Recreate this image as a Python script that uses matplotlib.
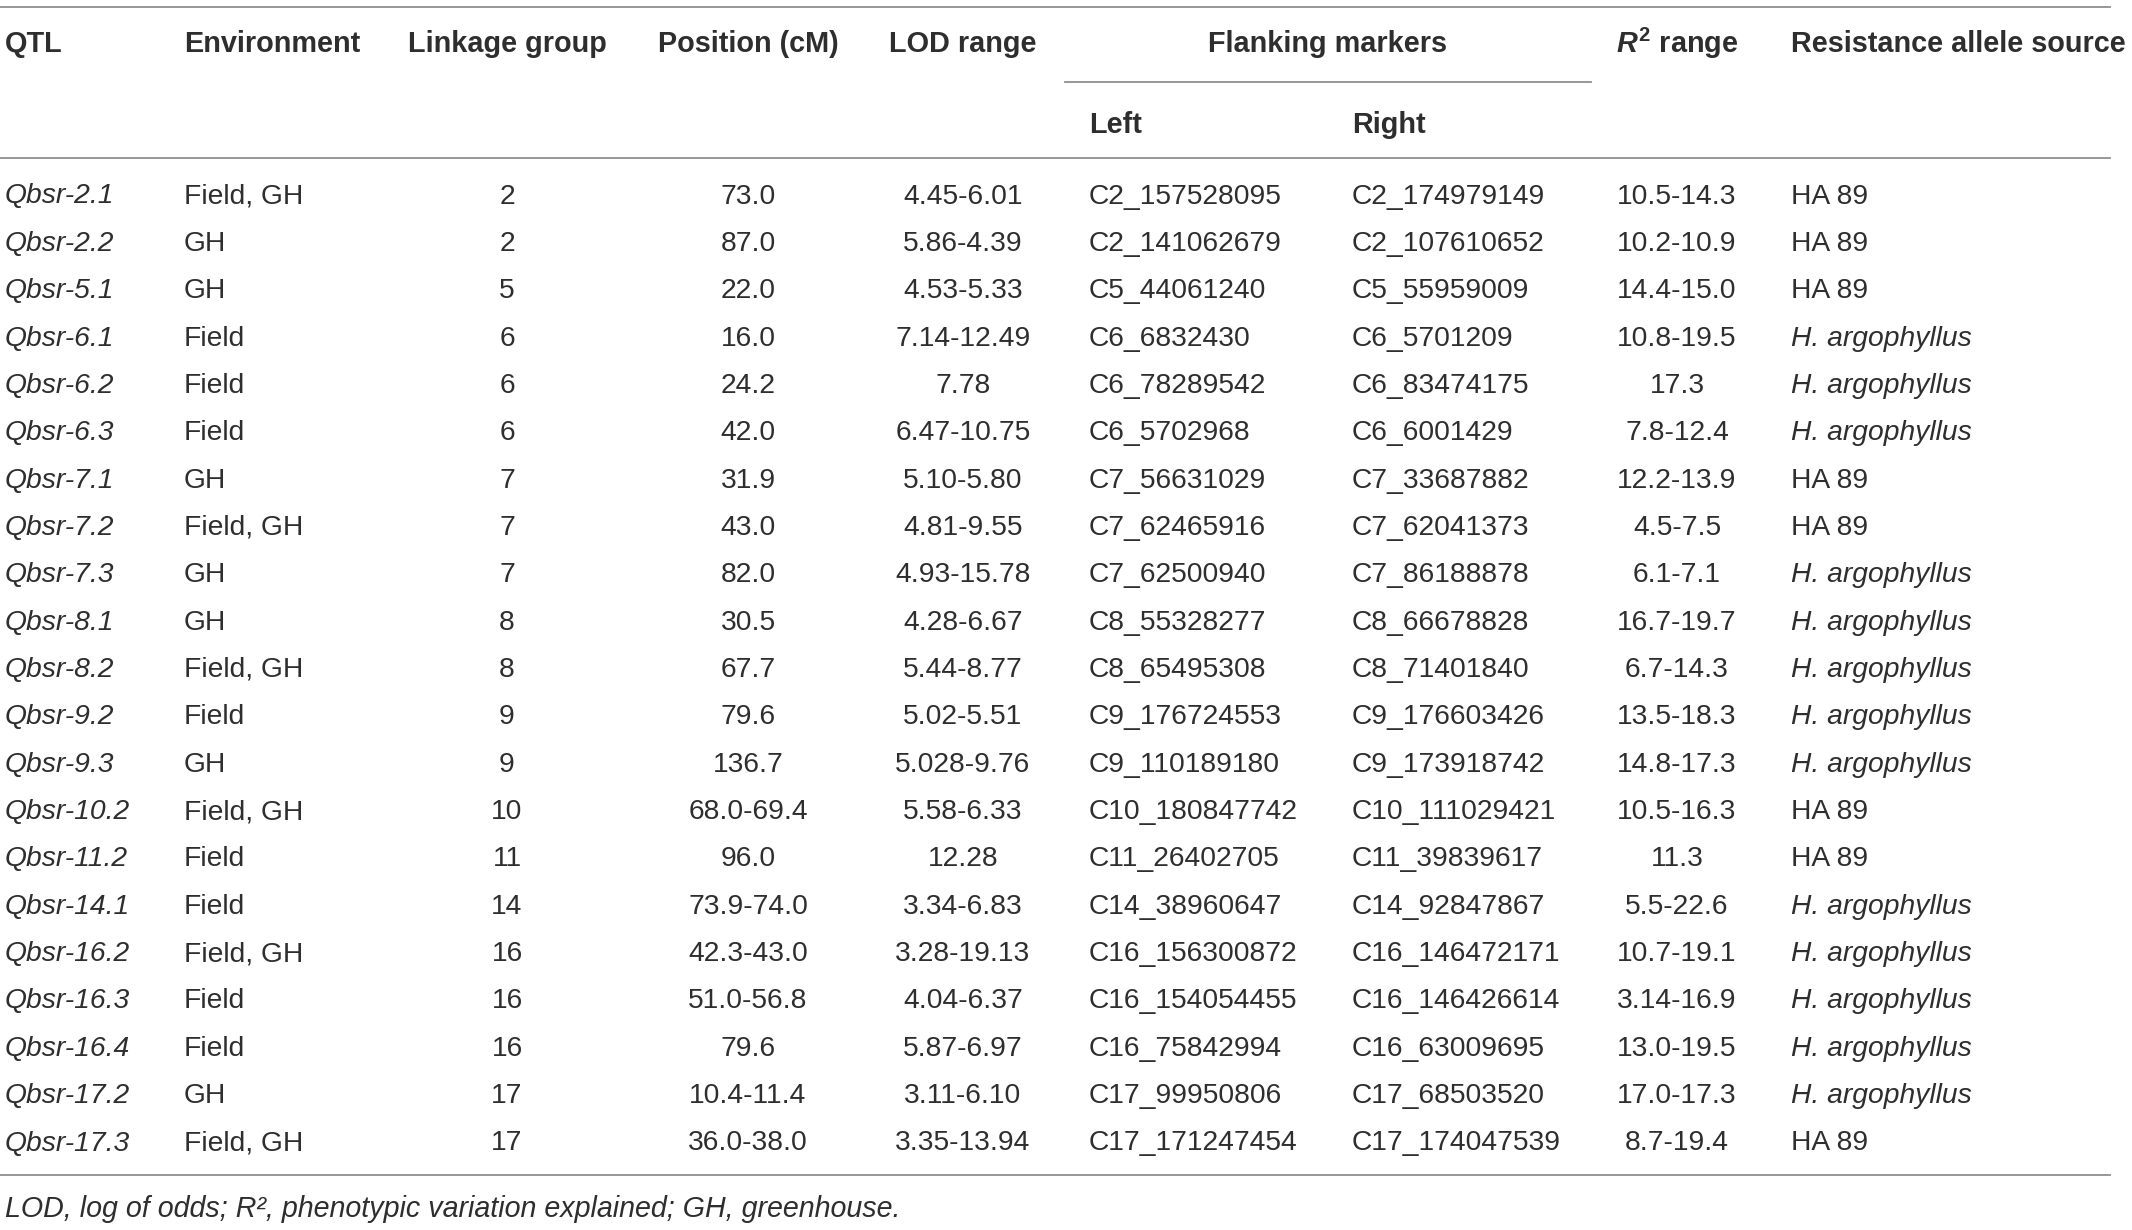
import matplotlib.pyplot as plt

# dados da tabela
qtl = ['Qbsr-2.1', 'Qbsr-2.2', 'Qbsr-5.1', 'Qbsr-6.1', 'Qbsr-6.2', 'Qbsr-6.3',
       'Qbsr-7.1', 'Qbsr-7.2', 'Qbsr-7.3', 'Qbsr-8.1', 'Qbsr-8.2', 'Qbsr-9.2',
       'Qbsr-9.3', 'Qbsr-10.2', 'Qbsr-11.2', 'Qbsr-14.1', 'Qbsr-16.2',
       'Qbsr-16.3', 'Qbsr-16.4', 'Qbsr-17.2', 'Qbsr-17.3']
environment = ['Field, GH', 'GH', 'GH', 'Field', 'Field', 'Field', 'GH',
               'Field, GH', 'GH', 'GH', 'Field, GH', 'Field', 'GH', 'Field, GH',
               'Field', 'Field', 'Field, GH', 'Field', 'Field', 'GH', 'Field, GH']
linkage = ['2', '2', '5', '6', '6', '6', '7', '7', '7', '8', '8', '9', '9',
           '10', '11', '14', '16', '16', '16', '17', '17']
position = ['73.0', '87.0', '22.0', '16.0', '24.2', '42.0', '31.9', '43.0',
            '82.0', '30.5', '67.7', '79.6', '136.7', '68.0-69.4', '96.0',
            '73.9-74.0', '42.3-43.0', '51.0-56.8', '79.6', '10.4-11.4',
            '36.0-38.0']
lod = ['4.45-6.01', '5.86-4.39', '4.53-5.33', '7.14-12.49', '7.78',
       '6.47-10.75', '5.10-5.80', '4.81-9.55', '4.93-15.78', '4.28-6.67',
       '5.44-8.77', '5.02-5.51', '5.028-9.76', '5.58-6.33', '12.28',
       '3.34-6.83', '3.28-19.13', '4.04-6.37', '5.87-6.97', '3.11-6.10',
       '3.35-13.94']
left_marker = ['C2_157528095', 'C2_141062679', 'C5_44061240', 'C6_6832430',
               'C6_78289542', 'C6_5702968', 'C7_56631029', 'C7_62465916',
               'C7_62500940', 'C8_55328277', 'C8_65495308', 'C9_176724553',
               'C9_110189180', 'C10_180847742', 'C11_26402705', 'C14_38960647',
               'C16_156300872', 'C16_154054455', 'C16_75842994',
               'C17_99950806', 'C17_171247454']
right_marker = ['C2_174979149', 'C2_107610652', 'C5_55959009', 'C6_5701209',
                'C6_83474175', 'C6_6001429', 'C7_33687882', 'C7_62041373',
                'C7_86188878', 'C8_66678828', 'C8_71401840', 'C9_176603426',
                'C9_173918742', 'C10_111029421', 'C11_39839617',
                'C14_92847867', 'C16_146472171', 'C16_146426614',
                'C16_63009695', 'C17_68503520', 'C17_174047539']
r2 = ['10.5-14.3', '10.2-10.9', '14.4-15.0', '10.8-19.5', '17.3', '7.8-12.4',
      '12.2-13.9', '4.5-7.5', '6.1-7.1', '16.7-19.7', '6.7-14.3', '13.5-18.3',
      '14.8-17.3', '10.5-16.3', '11.3', '5.5-22.6', '10.7-19.1', '3.14-16.9',
      '13.0-19.5', '17.0-17.3', '8.7-19.4']
source = ['HA 89', 'HA 89', 'HA 89', 'H. argophyllus', 'H. argophyllus',
          'H. argophyllus', 'HA 89', 'HA 89', 'H. argophyllus',
          'H. argophyllus', 'H. argophyllus', 'H. argophyllus',
          'H. argophyllus', 'HA 89', 'HA 89', 'H. argophyllus',
          'H. argophyllus', 'H. argophyllus', 'H. argophyllus',
          'H. argophyllus', 'HA 89']

plt.rcParams['font.family'] = 'Liberation Sans'
plt.rcParams['mathtext.fontset'] = 'custom'
plt.rcParams['mathtext.it'] = 'Liberation Sans:italic:bold'
plt.rcParams['mathtext.bf'] = 'Liberation Sans:bold'
plt.rcParams['mathtext.rm'] = 'Liberation Sans:bold'

W, H = 2132, 1230
fig = plt.figure(figsize=(W / 100, H / 100), dpi=100)
ax = fig.add_axes([0, 0, 1, 1])
ax.set_xlim(0, W)
ax.set_ylim(H, 0)
ax.axis('off')

txt = '#2e2e2e'
linec = '#8f8f8f'
fs = 20.3
hfs = 20.8

# colunas: (valores, x, alinhamento)
cols = [
    (qtl, 5, 'left'),
    (environment, 184, 'left'),
    (linkage, 507, 'center'),
    (position, 748, 'center'),
    (lod, 963, 'center'),
    (left_marker, 1089, 'left'),
    (right_marker, 1352, 'left'),
    (r2, 1677, 'center'),
    (source, 1791, 'left'),
]

# cabeçalho
head_y = 43.5
headers = [('QTL', 5, 'left'), ('Environment', 184, 'left'),
           ('Linkage group', 507, 'center'), ('Position (cM)', 748, 'center'),
           ('LOD range', 963, 'center'), ('Flanking markers', 1327, 'center'),
           (r'$\mathit{R}^{2}$ range', 1677, 'center'),
           ('Resistance allele source', 1791, 'left')]
for label, x, ha in headers:
    ax.text(x, head_y, label, fontsize=hfs, fontweight='bold', color=txt,
            ha=ha, va='center')
ax.text(1089, 125, 'Left', fontsize=hfs, fontweight='bold', color=txt,
        ha='left', va='center')
ax.text(1352, 125, 'Right', fontsize=hfs, fontweight='bold', color=txt,
        ha='left', va='center')

# linhas
ax.plot([0, 2110], [7, 7], color=linec, lw=1.3)
ax.plot([1065, 1591], [82, 82], color=linec, lw=1.3)
ax.plot([0, 2110], [158, 158], color=linec, lw=1.3)
ax.plot([0, 2110], [1175, 1175], color=linec, lw=1.3)

# linhas de dados
y0 = 196.5
dy = 47.35
for i in range(len(qtl)):
    y = y0 + i * dy
    for values, x, ha in cols:
        v = values[i]
        italic = values is qtl or v.startswith('H. ')
        ax.text(x, y, v, fontsize=fs, color=txt, ha=ha, va='center',
                fontstyle='italic' if italic else 'normal')

ax.text(5, 1209, 'LOD, log of odds; R\u00b2, phenotypic variation explained; '
        'GH, greenhouse.', fontsize=20.6, fontstyle='italic', color=txt,
        ha='left', va='center')

fig.savefig('out.png', dpi=100)
